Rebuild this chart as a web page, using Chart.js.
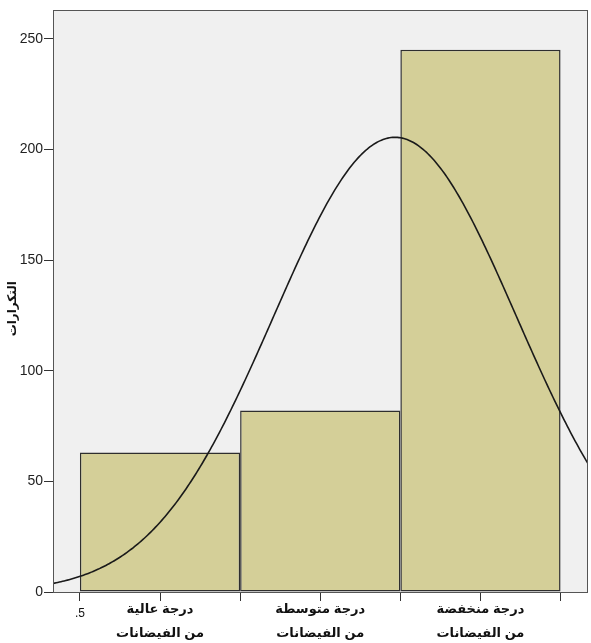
<!DOCTYPE html>
<html lang="ar">
<head>
<meta charset="utf-8">
<title>التكرارات</title>
<script src="https://cdn.jsdelivr.net/npm/chart.js@4/dist/chart.umd.min.js"></script>
<style>
  html, body { margin: 0; padding: 0; background: #ffffff; }
  #wrap { width: 591px; height: 643px; }
</style>
</head>
<body>
<div id="wrap"><canvas id="c" width="591" height="643"></canvas></div>
<script>
// Flood-degree categories (bin centres 1, 2, 3) and their frequencies
const categories = [
  ['درجة عالية', 'من الفيضانات'],
  ['درجة متوسطة', 'من الفيضانات'],
  ['درجة منخفضة', 'من الفيضانات']
];
const binCenters = [1, 2, 3];
const frequencies = [63, 82, 245];
const yTicks = [0, 50, 100, 150, 200, 250];
const xTicks = [0.5, 1, 1.5, 2, 2.5, 3, 3.5];
const yTitle = 'التكرارات';

const X_MIN = 0.332, X_MAX = 3.665, Y_MAX = 263;

// Fitted normal curve from the frequency table (mean, sample SD, N, bin width 1)
const total = frequencies.reduce((a, b) => a + b, 0);
const mean = binCenters.reduce((s, x, i) => s + x * frequencies[i], 0) / total;
const variance = binCenters.reduce((s, x, i) => s + frequencies[i] * (x - mean) ** 2, 0) / (total - 1);
const sd = Math.sqrt(variance);
const normalCurve = [];
for (let x = X_MIN - 0.02; x <= X_MAX + 0.02; x += 0.01) {
  const z = (x - mean) / sd;
  normalCurve.push({ x: x, y: total / (sd * Math.sqrt(2 * Math.PI)) * Math.exp(-0.5 * z * z) });
}

const FONT = 'Arial, "Liberation Sans", "DejaVu Sans", sans-serif';

// Grey plot background, full frame around the plot area, rotated y title
const plotFrame = {
  id: 'plotFrame',
  beforeDatasetsDraw(chart) {
    const { ctx, chartArea: a } = chart;
    ctx.save();
    ctx.fillStyle = '#f0f0f0';
    ctx.fillRect(a.left, a.top, a.right - a.left, a.bottom - a.top);
    ctx.restore();
  },
  afterDraw(chart) {
    const { ctx, chartArea: a } = chart;
    ctx.save();
    ctx.strokeStyle = '#555';
    ctx.lineWidth = 1;
    ctx.strokeRect(Math.round(a.left) + 0.5, Math.round(a.top) + 0.5,
                   Math.round(a.right - a.left), Math.round(a.bottom - a.top));
    // y-axis title
    ctx.translate(13, chart.scales.y.getPixelForValue(128));
    ctx.rotate(-Math.PI / 2);
    ctx.fillStyle = '#111';
    ctx.font = 'bold 12px ' + FONT;
    ctx.textAlign = 'center';
    ctx.textBaseline = 'middle';
    ctx.fillText(yTitle, 0, 0);
    ctx.restore();
  }
};

new Chart(document.getElementById('c'), {
  type: 'bar',
  data: {
    datasets: [
      {
        type: 'line',
        data: normalCurve,
        borderColor: '#1a1a1a',
        borderWidth: 1.6,
        pointRadius: 0,
        tension: 0,
        order: 0
      },
      {
        type: 'bar',
        data: binCenters.map((x, i) => ({ x: x, y: frequencies[i] })),
        backgroundColor: '#d4cf98',
        borderColor: '#2e2e2e',
        borderWidth: 1.5,
        borderSkipped: false,
        // axis ticks sit every half bin, so the bar ruler is half a bin wide:
        // doubling it makes each bar span its whole bin
        barPercentage: 2,
        categoryPercentage: 1,
        order: 1
      }
    ]
  },
  plugins: [plotFrame],
  options: {
    responsive: false,
    animation: false,
    layout: { padding: { top: 10, right: 4, left: 0, bottom: 0 } },
    plugins: { legend: { display: false }, tooltip: { enabled: false } },
    scales: {
      x: {
        type: 'linear',
        position: 'bottom',
        min: X_MIN,
        max: X_MAX,
        offset: false,
        afterBuildTicks(scale) { scale.ticks = xTicks.map(v => ({ value: v })); },
        afterFit(scale) { scale.height = 51; },
        grid: { offset: false, drawOnChartArea: false, drawTicks: true, tickLength: 9, color: '#333' },
        border: { display: true, color: '#333' },
        ticks: {
          autoSkip: false,
          maxRotation: 0,
          padding: -4,
          color: '#111',
          font: (ctx) => {
            const v = ctx.tick ? ctx.tick.value : 0;
            const isCat = binCenters.includes(v);
            return isCat
              ? { family: FONT, size: 13, weight: 'bold', lineHeight: 1.85 }
              : { family: FONT, size: 12, weight: 'normal', lineHeight: 2.75 };
          },
          callback: (v) => {
            if (v === 0.5) return '.5';
            const i = binCenters.indexOf(v);
            return i >= 0 ? categories[i] : '';
          }
        }
      },
      y: {
        min: 0,
        max: Y_MAX,
        afterBuildTicks(scale) { scale.ticks = yTicks.map(v => ({ value: v })); },
        afterFit(scale) { scale.width = 53; },
        grid: { drawOnChartArea: false, drawTicks: true, tickLength: 9, color: '#333' },
        border: { display: true, color: '#333' },
        ticks: { padding: 1, color: '#222', font: { family: FONT, size: 14 } }
      }
    }
  }
});
</script>
</body>
</html>
